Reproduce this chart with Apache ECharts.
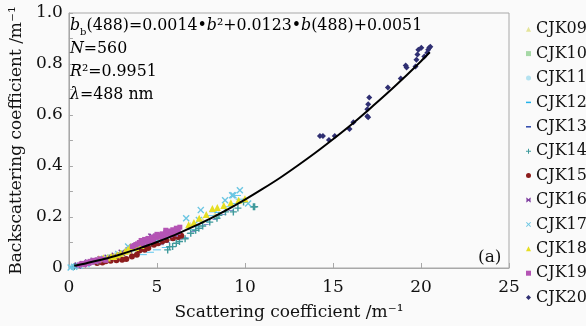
<!DOCTYPE html>
<html><head><meta charset="utf-8">
<script src="https://cdn.jsdelivr.net/npm/echarts@6/dist/echarts.min.js"></script>
<style>html,body{margin:0;padding:0;background:#fafafa}#c{width:586px;height:326px}</style>
</head><body><div id="c"></div>
<script>
// ---- data ----
const seriesNames = ['CJK09','CJK10','CJK11','CJK12','CJK13','CJK14','CJK15','CJK16','CJK17','CJK18','CJK19','CJK20'];
const cjk09 = [[1.6,0.030],[2.0,0.036],[2.4,0.042],[2.8,0.050],[3.1,0.058],[3.5,0.066],[3.9,0.075],[4.3,0.085],[4.7,0.095],[5.2,0.108],[5.6,0.118],[6.0,0.130],[6.9,0.170],[7.6,0.188],[8.3,0.210]];
const cjk10 = [[1.0,0.020],[1.4,0.026],[1.9,0.036],[2.3,0.044],[2.7,0.050],[3.0,0.060],[3.3,0.066],[3.7,0.075],[4.1,0.084],[4.4,0.092],[4.9,0.104],[5.3,0.114],[5.8,0.128]];
const cjk11 = [[0.15,0.004],[0.25,0.006],[0.35,0.008],[0.5,0.010],[0.7,0.013],[0.9,0.016],[1.2,0.022],[1.6,0.030],[2.1,0.041],[2.6,0.050],[3.2,0.066],[3.6,0.075],[4.2,0.090],[4.6,0.100]];
const cjk12 = [[0.2,0.004],[0.4,0.007],[4.2,0.052],[4.6,0.062],[5.0,0.071],[5.5,0.080],[6.6,0.118],[7.0,0.150],[7.2,0.162],[7.7,0.182],[8.0,0.205],[8.2,0.220],[8.5,0.218],[9.0,0.240],[9.5,0.253],[9.55,0.285],[9.7,0.270]];
const cjk13 = [[4.3,0.068],[4.75,0.084],[5.0,0.090],[5.26,0.091],[5.6,0.100],[5.9,0.108],[6.3,0.113],[6.6,0.118],[6.84,0.136],[7.03,0.143],[7.4,0.155],[7.8,0.170],[8.3,0.190],[8.8,0.210],[9.2,0.225]];
const cjk14 = [[0.3,0.006],[5.61,0.071],[5.72,0.084],[5.89,0.084],[6.1,0.097],[6.28,0.104],[6.6,0.115],[6.92,0.136],[7.2,0.148],[7.38,0.156],[7.6,0.165],[8.0,0.180],[8.41,0.195],[8.52,0.207],[8.89,0.220],[9.34,0.220],[9.6,0.235],[9.92,0.259],[10.48,0.240],[10.55,0.240]];
const cjk15 = [[1.6,0.020],[1.9,0.022],[2.09,0.026],[2.37,0.028],[2.70,0.030],[3.02,0.032],[3.26,0.035],[3.58,0.045],[3.86,0.052],[4.01,0.069],[4.3,0.072],[4.51,0.078],[4.83,0.091],[5.07,0.097],[5.3,0.104],[5.54,0.110],[5.91,0.117],[6.2,0.122],[6.38,0.126]];
const cjk16 = [[0.5,0.010],[0.8,0.015],[1.1,0.022],[1.4,0.028],[1.8,0.034],[2.2,0.040],[2.6,0.048],[3.0,0.060],[3.4,0.070],[3.8,0.084],[4.2,0.097],[4.5,0.110],[4.68,0.123],[4.75,0.123],[4.9,0.115]];
const cjk17 = [[0.1,0.002],[0.3,0.005],[0.6,0.009],[1.0,0.016],[1.5,0.026],[2.0,0.036],[2.8,0.055],[3.36,0.084],[3.9,0.088],[4.4,0.100],[5.0,0.112],[5.5,0.126],[6.0,0.135],[6.66,0.195],[7.38,0.188],[7.49,0.227],[8.87,0.266],[9.27,0.285],[9.34,0.285],[9.71,0.305],[10.18,0.253]];
const cjk18 = [[1.7,0.036],[1.95,0.040],[2.18,0.039],[2.4,0.046],[2.55,0.045],[2.75,0.052],[2.93,0.058],[3.2,0.066],[3.35,0.072],[3.49,0.084],[3.8,0.080],[4.1,0.088],[6.8,0.170],[7.1,0.178],[7.40,0.195],[7.8,0.210],[8.15,0.233],[8.43,0.237],[8.8,0.245],[9.2,0.256],[9.64,0.266],[10.0,0.272]];
const cjk19 = [[0.6,0.012],[0.7,0.016],[0.8,0.018],[0.9,0.014],[1.0,0.022],[1.1,0.018],[1.2,0.026],[1.3,0.022],[1.4,0.030],[1.5,0.026],[1.6,0.032],[1.7,0.028],[1.8,0.036],[2.0,0.034],[2.1,0.030],[3.6,0.084],[3.7,0.088],[3.8,0.092],[3.9,0.095],[4.0,0.100],[4.1,0.108],[4.2,0.102],[4.3,0.112],[4.4,0.106],[4.5,0.116],[4.6,0.110],[4.7,0.120],[4.8,0.116],[4.9,0.125],[5.0,0.120],[5.1,0.130],[5.2,0.124],[5.3,0.134],[5.4,0.128],[5.5,0.140],[5.6,0.132],[5.7,0.145],[5.8,0.138],[5.9,0.150],[6.0,0.142],[6.1,0.156],[6.2,0.152],[6.3,0.160],[5.5,0.148],[5.0,0.132],[4.5,0.100],[6.2,0.140],[4.2,0.094],[4.8,0.108],[5.3,0.118],[5.75,0.128],[6.05,0.134]];
const cjk20 = [[14.26,0.518],[14.43,0.518],[14.77,0.502],[15.10,0.518],[15.94,0.545],[16.16,0.572],[16.95,0.623],[17.0,0.642],[16.95,0.595],[17.0,0.591],[17.06,0.669],[18.12,0.708],[18.85,0.743],[19.13,0.794],[19.18,0.786],[19.69,0.790],[19.74,0.817],[19.80,0.837],[19.85,0.856],[20.02,0.864],[20.19,0.829],[20.36,0.844],[20.47,0.864],[20.53,0.868],[20.41,0.856]];
const fitX = [0.3,1,2,3,4,5,6,7,8,9,10,11,12,13,14,15,16,17,18,19,20,20.5];
const fitY = [0.009,0.019,0.035,0.055,0.077,0.102,0.129,0.160,0.193,0.229,0.268,0.310,0.354,0.402,0.452,0.505,0.560,0.619,0.680,0.744,0.811,0.846];
const xTicks = [0,5,10,15,20,25];

// ---- styles ----
const FONT = 'DejaVu Serif';
const PLUS = 'path://M4,0H6V4H10V6H6V10H4V6H0V4H4Z';
const CROSS = 'path://M1.4,0L5,3.6L8.6,0L10,1.4L6.4,5L10,8.6L8.6,10L5,6.4L1.4,10L0,8.6L3.6,5L0,1.4Z';
const STAR = 'path://M1.4,0L5,3.6L8.6,0L10,1.4L6.4,5L10,8.6L8.6,10L5,6.4L1.4,10L0,8.6L3.6,5L0,1.4Z M0,4.2H10V5.8H0Z';
const DASH = 'path://M0,0H10V3H0Z';
const styles = {
  CJK09:{data:cjk09,symbol:'triangle',size:6,color:'#e4e49a'},
  CJK10:{data:cjk10,symbol:'rect',size:5,color:'#a6d8a6'},
  CJK11:{data:cjk11,symbol:'circle',size:5,color:'#b4e2f0'},
  CJK12:{data:cjk12,symbol:DASH,size:[8,2.4],color:'#22b2ea'},
  CJK13:{data:cjk13,symbol:DASH,size:[5,2],color:'#2c46aa'},
  CJK14:{data:cjk14,symbol:PLUS,size:7,color:'#3f9a9c'},
  CJK15:{data:cjk15,symbol:'circle',size:6,color:'#8c1c1c'},
  CJK16:{data:cjk16,symbol:STAR,size:7,color:'#7c3a9e'},
  CJK17:{data:cjk17,symbol:CROSS,size:7,color:'#6cc6e2'},
  CJK18:{data:cjk18,symbol:'triangle',size:7,color:'#e6de22'},
  CJK19:{data:cjk19,symbol:'rect',size:5,color:'#b454b4'},
  CJK20:{data:cjk20,symbol:'diamond',size:6,color:'#2f2f72'}
};

const series = seriesNames.map(n => ({
  name:n, type:'scatter', data:styles[n].data, symbol:styles[n].symbol,
  symbolSize:styles[n].size, symbolKeepAspect:true,
  itemStyle:{color:styles[n].color, opacity:1}, z:2
}));
series.push({
  name:'fit', type:'line', data:fitX.map((x,i)=>[x,fitY[i]]), smooth:0.3,
  showSymbol:false, symbol:'none', lineStyle:{color:'#000',width:2}, z:5
});

const chart = echarts.init(document.getElementById('c'), null, {renderer:'canvas'});
chart.setOption({
  backgroundColor:'#fafafa',
  animation:false,
  grid:{left:64,right:77,top:13,bottom:56,show:true,borderColor:'#a8a8a8',borderWidth:1,backgroundColor:'#fafafa'},
  legend:{
    orient:'vertical', left:521, top:12, itemWidth:5, itemHeight:5, itemGap:0,
    data:seriesNames.map(n=>({name:n,icon:styles[n].symbol})),
    textStyle:{fontFamily:FONT,fontSize:16,color:'#111',lineHeight:24.4,padding:[0,0,0,0]},
    selectedMode:false
  },
  xAxis:{
    type:'value', min:0, max:25, interval:5,
    name:'Scattering coefficient /m⁻¹', nameLocation:'middle', nameGap:36,
    nameTextStyle:{fontFamily:FONT,fontSize:17,color:'#111'},
    axisLine:{show:true,lineStyle:{color:'#a8a8a8'}},
    axisTick:{show:true,inside:true,length:5,lineStyle:{color:'#a8a8a8'}},
    axisLabel:{fontFamily:FONT,fontSize:17,color:'#111',margin:11,
      formatter:v=>xTicks.indexOf(v)>=0?String(v):''},
    splitLine:{show:false}
  },
  yAxis:{
    type:'value', min:0, max:1, interval:0.1,
    name:'Backscattering coefficient /m⁻¹', nameLocation:'middle', nameGap:39,
    nameTextStyle:{fontFamily:FONT,fontSize:17,color:'#111'},
    axisLine:{show:true,lineStyle:{color:'#a8a8a8'}},
    axisTick:{show:true,inside:true,length:4,lineStyle:{color:'#a8a8a8'}},
    axisLabel:{fontFamily:FONT,fontSize:17,color:'#111',margin:6,
      formatter:v=>{const r=Math.round(v*10); if(r%2) return ''; return r===0?'0':(r/10).toFixed(1);}},
    splitLine:{show:false}
  },
  graphic:[
    {type:'text', left:70, top:18, z:10, style:{
      text:'{i|b}{s|b}{n|(488)=0.0014•}{i|b}{n|²+0.0123•}{i|b}{n|(488)+0.0051}\n{i|N}{n|=560}\n{i|R}{n|²=0.9951}\n{i|λ}{n|=488 nm}',
      rich:{
        n:{fontFamily:FONT,fontSize:15.8,color:'#111',lineHeight:23},
        i:{fontFamily:FONT,fontSize:15.8,fontStyle:'italic',color:'#111',lineHeight:23},
        s:{fontFamily:FONT,fontSize:10,color:'#111',lineHeight:23,verticalAlign:'bottom',padding:[8,0,0,0]}
      }
    }},
    {type:'text', left:478, top:249, z:10, style:{text:'(a)',fontFamily:FONT,fontSize:17,fill:'#111'}}
  ],
  series:series
});
</script>
</body></html>
